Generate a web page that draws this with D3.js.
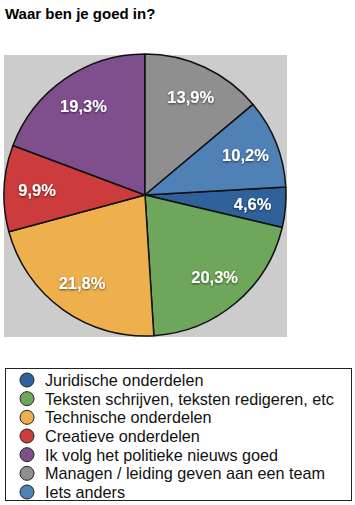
<!DOCTYPE html>
<html>
<head>
<meta charset="utf-8">
<script src="https://cdn.jsdelivr.net/npm/d3@7"></script>
<style>
  body { margin: 0; background: #fff; }
  svg { display: block; font-family: "Liberation Sans", Arial, Helvetica, sans-serif; }
</style>
</head>
<body>
<svg id="chart" width="355" height="505"></svg>
<script>
// Data
const categories = [
  "Juridische onderdelen",
  "Teksten schrijven, teksten redigeren, etc",
  "Technische onderdelen",
  "Creatieve onderdelen",
  "Ik volg het politieke nieuws goed",
  "Managen / leiding geven aan een team",
  "Iets anders"
];
const values = [4.6, 20.3, 21.8, 9.9, 19.3, 13.9, 10.2];
const labels = ["4,6%", "20,3%", "21,8%", "9,9%", "19,3%", "13,9%", "10,2%"];
const colors = ["#30619a", "#6ea65b", "#eeb04c", "#cc3c3c", "#7f4e8d", "#8f8f8f", "#4f80b6"];

const svg = d3.select("#chart");

// Title
svg.append("text")
  .attr("x", 5).attr("y", 19)
  .style("font-size", "15px").style("font-weight", "bold")
  .text("Waar ben je goed in?");

// grey plot area
svg.append("rect")
  .attr("x", 4).attr("y", 55)
  .attr("width", 283).attr("height", 282)
  .attr("fill", "#cccccc");

const cx = 145, cy = 195, r = 141;

// the last two slices sit before 12 o'clock's clockwise start of the first one
const total = d3.sum(values);
const offset = (values[5] + values[6]) / total * 2 * Math.PI;

const pie = d3.pie().sort(null).value(d => d)
  .startAngle(offset).endAngle(offset + 2 * Math.PI);
const arcs = pie(values);

const arc = d3.arc().innerRadius(0).outerRadius(r);
const labelArc = d3.arc().innerRadius(108).outerRadius(108);

const defs = svg.append("defs");
const shadow = defs.append("filter").attr("id", "shadow")
  .attr("x", "-20%").attr("y", "-20%").attr("width", "140%").attr("height", "140%");
shadow.append("feDropShadow")
  .attr("dx", 0).attr("dy", 1).attr("stdDeviation", 1.2)
  .attr("flood-color", "#000").attr("flood-opacity", 0.6);

const g = svg.append("g").attr("transform", `translate(${cx},${cy})`);

g.selectAll("path.slice")
  .data(arcs)
  .enter()
  .append("path")
    .attr("class", "slice")
    .attr("d", arc)
    .attr("fill", (d, i) => colors[i])
    .attr("stroke", "#111")
    .attr("stroke-width", 1.5)
    .attr("stroke-linejoin", "round");

g.selectAll("text.lbl")
  .data(arcs)
  .enter()
  .append("text")
    .attr("class", "lbl")
    .attr("transform", d => `translate(${labelArc.centroid(d)})`)
    .attr("text-anchor", "middle")
    .attr("dy", "0.35em")
    .attr("fill", "#fff")
    .attr("filter", "url(#shadow)")
    .style("font-size", "16.5px").style("font-weight", "bold")
    .text((d, i) => labels[i]);

// Legend
const legend = svg.append("g");
legend.append("rect")
  .attr("x", 5.5).attr("y", 368.5)
  .attr("width", 346).attr("height", 132)
  .attr("fill", "#fff").attr("stroke", "#222").attr("stroke-width", 1);

const rowY = d3.scaleLinear().domain([0, categories.length - 1]).range([380, 492]);

const items = legend.selectAll("g.item")
  .data(categories)
  .enter()
  .append("g")
    .attr("class", "item")
    .attr("transform", (d, i) => `translate(0,${rowY(i)})`);

items.append("circle")
  .attr("cx", 27).attr("cy", 0).attr("r", 7)
  .attr("fill", (d, i) => colors[i])
  .attr("stroke", "#222").attr("stroke-width", 1);

items.append("text")
  .attr("x", 45).attr("y", 0)
  .attr("dy", "0.36em")
  .style("font-size", "16.2px")
  .attr("fill", "#111")
  .text(d => d);
</script>
</body>
</html>
